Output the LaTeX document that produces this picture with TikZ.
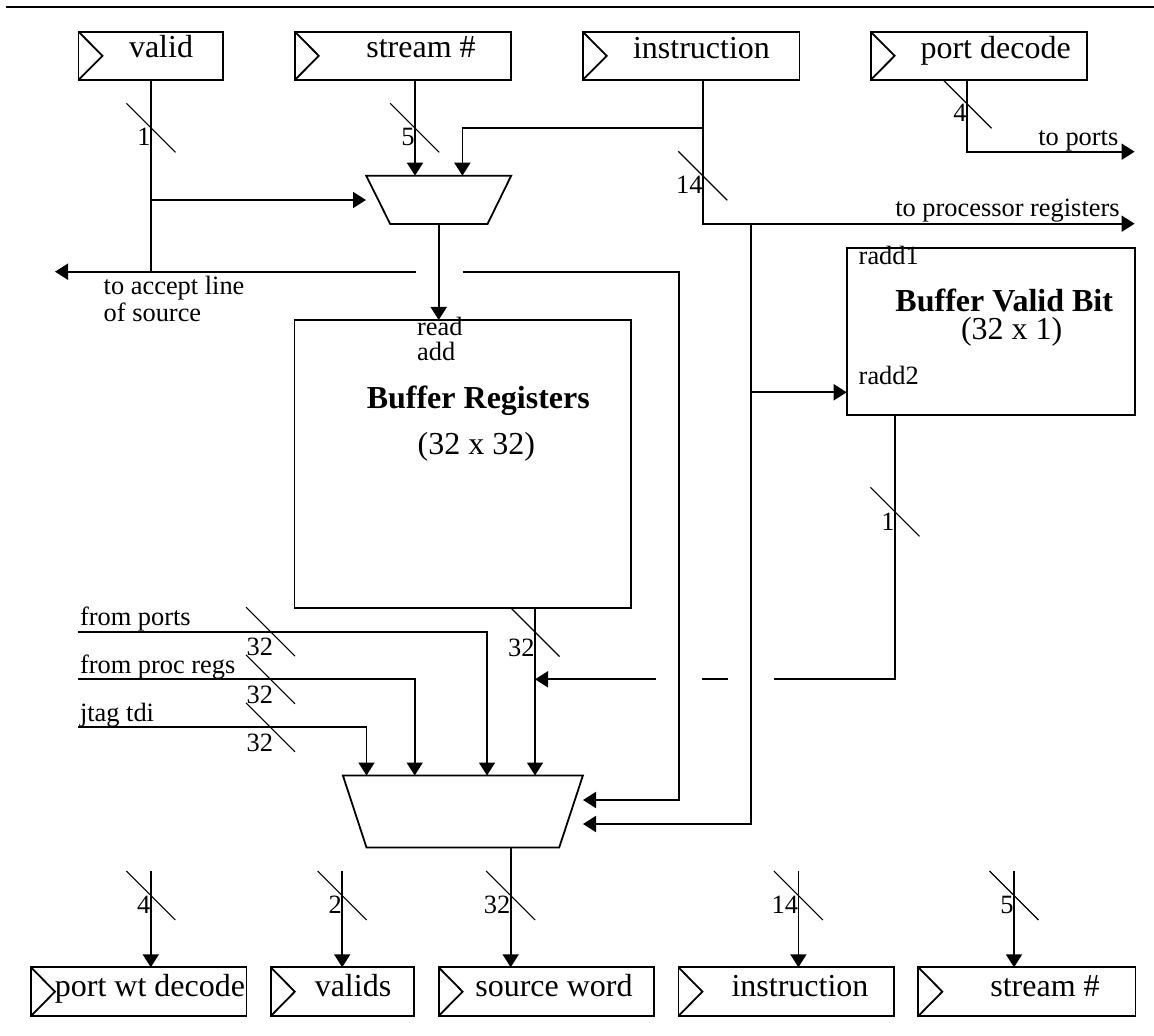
\documentclass[tikz,border=0pt]{standalone}
\usepackage{fontspec}
\setmainfont{Liberation Serif}
\usetikzlibrary{arrows.meta}

% register box with clock chevron: name, x1, y1, x2, y2, text x, text baseline, text
\newcommand\regbox[8]{%
  \node[regbox,minimum width={(#4-#2)*0.5pt},minimum height={(#5-#3)*0.5pt}] (#1) at (#2,#3) {};
  \draw[wire] (#1.north west) -- ++(24,{(#5-#3)/2}) -- (#1.south west);
  \node[boxtext] (#1-text) at (#6,#7) {#8};
}
% bus width slash centred on a wire
\newcommand\busmark[2]{\draw[busmark] (#1,#2) ++(-24.5,-24.5) -- ++(49,49);}

\begin{document}
\begin{tikzpicture}[x=0.5pt,y=-0.5pt,
  wire/.style={line width=0.9pt},
  arr/.style={wire,-{Triangle[length=6.5pt,width=8pt]}},
  regbox/.style={draw,line width=0.9pt,rectangle,inner sep=0pt,outer sep=0pt,anchor=north west},
  boxtext/.style={font=\fontsize{16}{19}\selectfont,inner sep=0pt,anchor=base},
  small/.style={font=\fontsize{13.2}{15}\selectfont,inner sep=0pt},
  boldtext/.style={font=\fontsize{16}{19}\selectfont\bfseries,inner sep=0pt,anchor=base},
  busmark/.style={line width=0.55pt},
]
\useasboundingbox (0,0) rectangle (1154,1036);

% page rule
\draw[line width=1pt] (5.5,7.3) -- (1154,7.3);

% input registers
\regbox{valid}{78.5}{31.7}{223}{80}{161}{57.5}{valid}
\regbox{streamin}{294.8}{31.7}{511.2}{80}{421}{57.5}{stream \#}
\regbox{instrin}{582.7}{31.7}{799.4}{80}{701.5}{58.5}{instruction}
\regbox{portdec}{870.6}{31.7}{1087.3}{80}{995.6}{58.5}{port decode}

% output registers
\regbox{portwt}{31}{967.3}{246.5}{1016}{150}{996.5}{port wt decode}
\regbox{valids}{270.8}{967.3}{414.3}{1016}{353}{996.5}{valids}
\regbox{srcword}{438.6}{967.3}{654.2}{1016}{554}{996.5}{source word}
\regbox{instrout}{678.4}{967.3}{894}{1016}{800}{996.5}{instruction}
\regbox{streamout}{918.3}{967.3}{1135.4}{1016}{1045}{996.5}{stream \#}

% memories
\node[regbox,minimum width={(631-294.5)*0.5pt},minimum height={(607.7-320)*0.5pt}] (bufreg) at (294.5,320) {};
\node[boldtext] (bufreg-title) at (478.3,408.3) {Buffer Registers};
\node[boxtext] (bufreg-size) at (476.3,455) {(32 x 32)};
\node[small,anchor=base west] (readlbl) at (416.7,336) {read};
\node[small,anchor=base west] (addlbl) at (416.7,360.7) {add};

\node[regbox,minimum width={(1135-846.7)*0.5pt},minimum height={(415-247.7)*0.5pt}] (bufvalid) at (846.7,247.7) {};
\node[boldtext] (bufvalid-title) at (1004.2,311.7) {Buffer Valid Bit};
\node[boxtext] (bufvalid-size) at (1011.7,340) {(32 x 1)};
\node[small,anchor=base west] (radd1) at (858.3,265) {radd1};
\node[small,anchor=base west] (radd2) at (858.3,385) {radd2};

% read-address multiplexer
\coordinate (m1tl) at (366.2,175.7);
\coordinate (m1tr) at (511.2,175.7);
\coordinate (m1br) at (487.5,224);
\coordinate (m1bl) at (390.2,224);
\draw[wire] (m1tl) -- (m1tr) -- (m1br) -- (m1bl) -- cycle;

% source word multiplexer
\coordinate (m2tl) at (342.9,775.5);
\coordinate (m2tr) at (582.9,775.5);
\coordinate (m2br) at (559.2,847.5);
\coordinate (m2bl) at (366.5,847.5);
\draw[wire] (m2tl) -- (m2tr) -- (m2br) -- (m2bl) -- cycle;

% pins
\coordinate (m1in0) at (366,200);
\coordinate (m1in1) at (415,175.7);
\coordinate (m1in2) at (462.4,175.7);
\coordinate (m1out) at (438.7,224);
\coordinate (m2in1) at (366.5,775.5);
\coordinate (m2in2) at (414.7,775.5);
\coordinate (m2in3) at (487,775.5);
\coordinate (m2in4) at (535,775.5);
\coordinate (m2in5) at (583,800);
\coordinate (m2in6) at (583,824);
\coordinate (m2out) at (510.7,847.5);
\coordinate (radd2pin) at (846.7,392.3);

% valid bit: to the mux and to the accept line
\coordinate (accL) at (55,271.7);
\coordinate (accG1) at (415.7,271.7);
\coordinate (accG2) at (462.7,271.7);
\coordinate (accR) at (678.6,271.7);
\draw[wire] (valid.south) -- (valid.south |- accL);
\draw[arr] (valid.south |- m1in0) -- (m1in0);
\draw[arr] (accG1) -- (accL);
\draw[arr] (accG2) -- (accR) |- (m2in5);

% stream number into the mux
\draw[arr] (streamin.south -| m1in1) -- (m1in1);

% instruction fan-out
\coordinate (instrSplit) at (702.8,127.7);
\coordinate (toProc) at (1134.6,223.7);
\coordinate (bvTap) at (751.3,223.7);
\draw[arr] (instrin.south -| instrSplit) |- (toProc);
\draw[arr] (instrSplit) -| (m1in2);
\draw[arr] (bvTap) |- (m2in6);
\draw[arr] (bvTap |- radd2pin) -- (radd2pin);

% port decode
\coordinate (pdTap) at (967,80);
\coordinate (toPorts) at (1134.6,151.7);
\draw[arr] (pdTap) |- (toPorts);

% read address into the buffer
\draw[arr] (m1out) -- (m1out |- bufreg.north);

% buffer data into the source mux
\draw[arr] (bufreg.south -| m2in4) -- (m2in4);

% valid bit fed back, broken where it crosses
\coordinate (bvOut) at (895,679.3);
\draw[wire] (bufvalid.south -| bvOut) -- (bvOut) -- (774.3,679.3);
\draw[wire] (727.7,679.3) -- (702.3,679.3);
\draw[arr] (655.7,679.3) -- (m2in4 |- bvOut);

% other data sources
\coordinate (srcPorts) at (78,631.7);
\coordinate (srcProc) at (78,679.3);
\coordinate (srcJtag) at (78,727.3);
\draw[arr] (srcPorts) -| (m2in3);
\draw[arr] (srcProc) -| (m2in2);
\draw[arr] (srcJtag) -| (m2in1);
\node[small,anchor=base west] (lblPorts) at (79.6,625) {from ports};
\node[small,anchor=base west] (lblProc) at (79.6,673.3) {from proc regs};
\node[small,anchor=base west] (lblJtag) at (79.6,721.3) {jtag tdi};

% outputs
\draw[arr] (m2out) -- (srcword.north -| m2out);
\foreach \px/\reg in {150.8/portwt,342.2/valids,798.4/instrout,1014/streamout}
  \draw[arr] (\px,871) -- (\reg.north -| \px,871);

% outgoing labels
\node[small,anchor=base west] (lblAcc1) at (103.3,295) {to accept line};
\node[small,anchor=base west] (lblAcc2) at (103.3,321.7) {of source};
\node[small,anchor=base east] (lblToPorts) at (1118.7,145.7) {to ports};
\node[small,anchor=base east] (lblToProc) at (1120,216.7) {to processor registers};

% bus widths
\busmark{151}{127.8}    \node[small,anchor=base east] at (151,145.7) {1};
\busmark{414.7}{127.8}  \node[small,anchor=base east] at (415,145.7) {5};
\busmark{702.8}{175.8}  \node[small,anchor=base east] at (703,193.3) {14};
\busmark{967}{103.8}    \node[small,anchor=base east] at (967,121.7) {4};
\busmark{535}{632}      \node[small,anchor=base east] at (535,656) {32};
\busmark{895}{511.8}    \node[small,anchor=base east] at (895,530) {1};
\busmark{270.5}{631.7}  \node[small,anchor=base east] at (273.5,655) {32};
\busmark{270.5}{679.3}  \node[small,anchor=base east] at (273.5,703.3) {32};
\busmark{270.5}{727.3}  \node[small,anchor=base east] at (273.5,751.7) {32};
\busmark{150.8}{895.5}  \node[small,anchor=base east] at (150.8,913.3) {4};
\busmark{342.2}{895.5}  \node[small,anchor=base east] at (342.2,913.3) {2};
\busmark{510.7}{895.5}  \node[small,anchor=base east] at (510.7,913.3) {32};
\busmark{798.4}{895.5}  \node[small,anchor=base east] at (798.4,913.3) {14};
\busmark{1014}{895.5}   \node[small,anchor=base east] at (1014,913.3) {5};
\end{tikzpicture}
\end{document}
